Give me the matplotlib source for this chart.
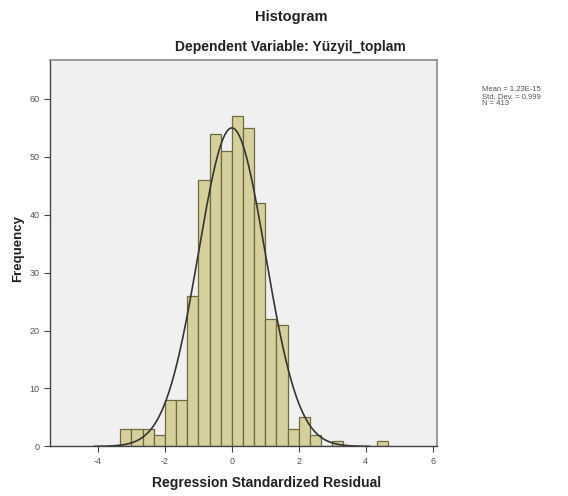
import matplotlib.pyplot as plt
import numpy as np

plt.rcParams['font.family'] = ['Liberation Sans', 'DejaVu Sans']
plt.rcParams['axes.unicode_minus'] = False

# histogram bins (width 1/3) and the counts in each bin
bin_edges = np.arange(-10, 15) / 3.0
counts = [3, 3, 3, 2, 8, 8, 26, 46, 54, 51, 57, 55, 42, 22, 21, 3, 5, 2, 0, 1, 0, 0, 0, 1]

mean = 0.0
std_dev = 0.999
n_obs = 413

x_ticks = [-4, -2, 0, 2, 4, 6]
y_ticks = [0, 10, 20, 30, 40, 50, 60]

fig = plt.figure(figsize=(5.68, 4.96), dpi=100)
ax = fig.add_axes([0.088, 0.1, 0.681, 0.779])
ax.set_facecolor('#F0F0F0')

widths = np.diff(bin_edges)
ax.bar(bin_edges[:-1], counts, width=widths, align='edge',
       color='#D6D09C', edgecolor='#6E6C3C', linewidth=0.9, zorder=2)

# normal curve scaled to the histogram
xs = np.linspace(-4.1, 4.1, 300)
bw = widths[0]
ys = n_obs * bw / (std_dev * np.sqrt(2 * np.pi)) * np.exp(-0.5 * ((xs - mean) / std_dev) ** 2)
ax.plot(xs, ys, color='#353535', linewidth=1.2, zorder=3)

ax.set_xlim(-5.43, 6.12)
ax.set_ylim(0, 66.7)
ax.set_xticks(x_ticks)
ax.set_yticks(y_ticks)
ax.tick_params(axis='both', labelsize=6.5, labelcolor='#555555', color='#444444',
               length=4, width=0.8, direction='out')

for side in ['left', 'bottom']:
    ax.spines[side].set_color('#444444')
    ax.spines[side].set_linewidth(1.0)
for side in ['top', 'right']:
    ax.spines[side].set_color('#8A8A8A')
    ax.spines[side].set_linewidth(1.2)

fig.text(0.512, 0.965, 'Histogram', ha='center', va='center',
         fontsize=10.5, fontweight='bold', color='#222222')
fig.text(0.512, 0.906, 'Dependent Variable: Yüzyil_toplam', ha='center', va='center',
         fontsize=10, fontweight='bold', color='#222222')
fig.text(0.47, 0.026, 'Regression Standardized Residual', ha='center', va='center',
         fontsize=10, fontweight='bold', color='#222222')
fig.text(0.032, 0.5, 'Frequency', ha='center', va='center', rotation=90,
         fontsize=9.5, fontweight='bold', color='#222222')

fig.text(0.848, 0.828, 'Mean = 1,23E-15\nStd. Dev. = 0,999\nN = 413',
         ha='left', va='top', fontsize=5.5, color='#555555', linespacing=1.05)

fig.savefig('out.png', dpi=100, facecolor='white')
